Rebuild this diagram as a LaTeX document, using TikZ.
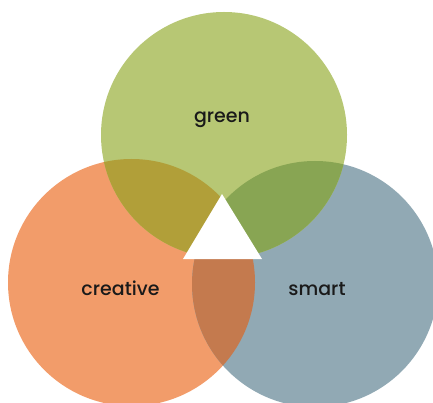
\documentclass[tikz,border=0pt]{standalone}
\usepackage{fontspec}
\setmainfont{Poppins}[UprightFont=* Medium]
\usetikzlibrary{positioning,calc}
\definecolor{greenc}{HTML}{B7C774}
\definecolor{orangec}{HTML}{F29C6A}
\definecolor{bluec}{HTML}{91A9B4}
\definecolor{orgreen}{HTML}{B19F39}
\definecolor{grblue}{HTML}{88A553}
\definecolor{orblue}{HTML}{C47A4E}
\definecolor{labeltext}{HTML}{1A1A1A}

\begin{document}
\begin{tikzpicture}[x=1pt,y=-1pt,
    label/.style={text=labeltext,anchor=base,font=\fontsize{19}{22}\selectfont}]
    \useasboundingbox (0,0) rectangle (433,403);
    \coordinate (g) at (224,135);
    \coordinate (o) at (131.5,282.5);
    \coordinate (b) at (315,284);
    \fill[orangec] (o) circle (123.5);
    \fill[bluec] (b) circle (123);
    \fill[greenc] (g) circle (123);
    % overlaps
    \begin{scope}
      \clip (o) circle (123.5);
      \fill[orgreen] (g) circle (123);
      \fill[orblue] (b) circle (123);
    \end{scope}
    \begin{scope}
      \clip (b) circle (123);
      \fill[grblue] (g) circle (123);
    \end{scope}
    \fill[white] (222,194) -- (262,259) -- (183,259) -- cycle;
    \node[label] (green) at (222,122.5) {green};
    \node[label] (creative) at (120.5,295.5) {creative};
    \node[label] (smart) at (317,295.5) {smart};
\end{tikzpicture}
\end{document}
